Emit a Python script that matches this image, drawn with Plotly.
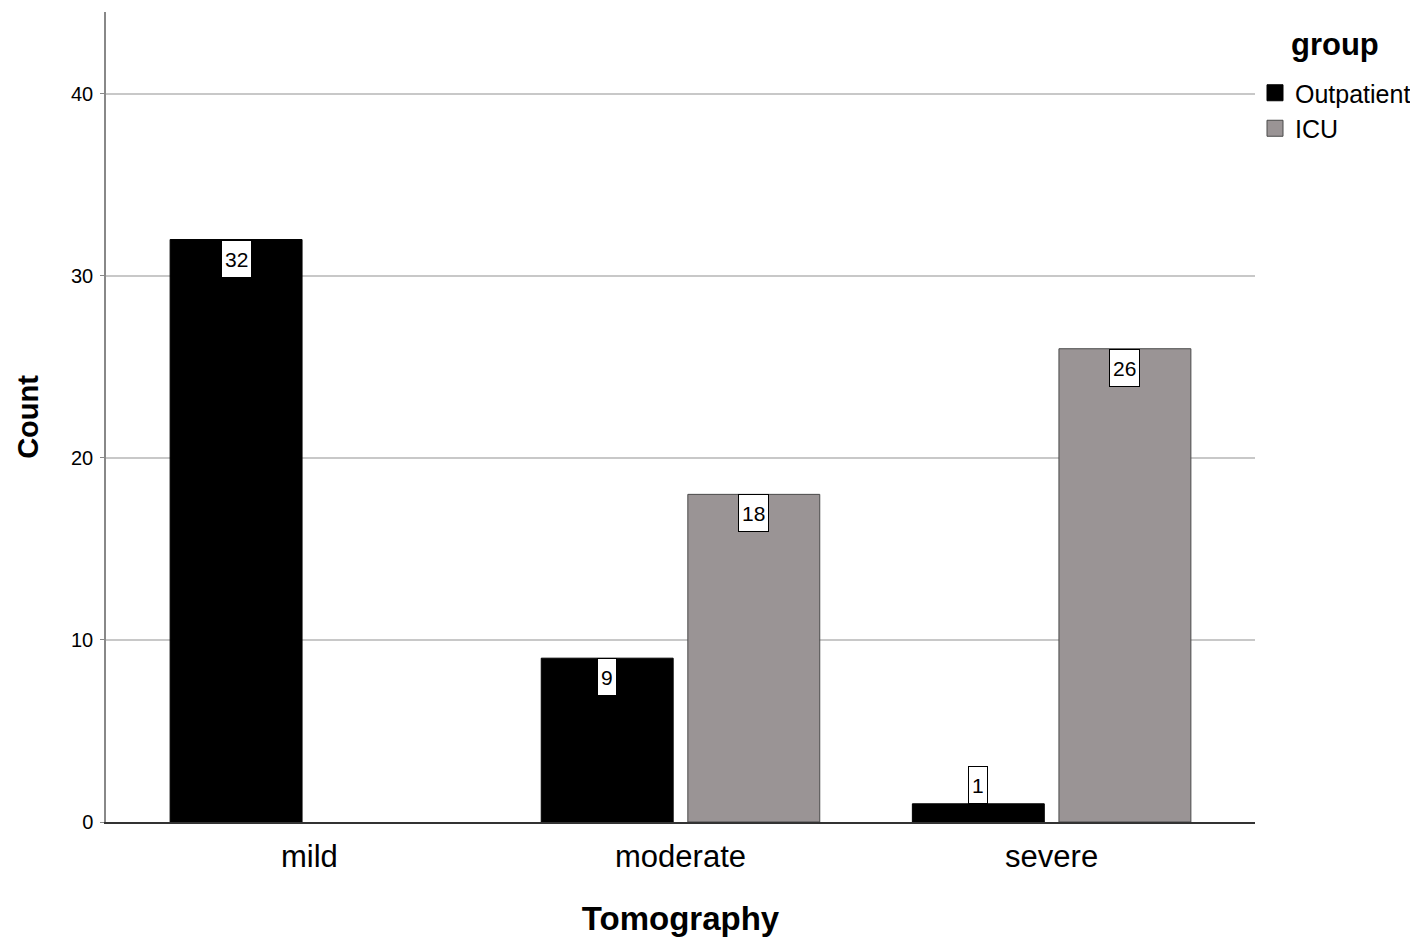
import plotly.graph_objects as go

categories = ["mild", "moderate", "severe"]
outpatient = [32, 9, 1]
icu = [None, 18, 26]
series_names = ["Outpatient", "ICU"]
series_colors = ["#000000", "#9a9495"]
series_lines = ["#000000", "#4a4a4a"]
legend_title = "group"
y_ticks = [0, 10, 20, 30, 40]

BARGAP = 0.21
GROUPGAP = 0.10
FONT = "Liberation Sans, Arial, sans-serif"
W, H = 1418, 949

xs = list(range(len(categories)))
fig = go.Figure()
for name, vals, col, lc in zip(series_names, (outpatient, icu), series_colors, series_lines):
    fig.add_trace(go.Bar(x=xs, y=vals, name=name, showlegend=False,
                         marker=dict(color=col, line=dict(color=lc, width=1))))
# legend entries with larger square swatches
for name, col, lc in zip(series_names, series_colors, series_lines):
    fig.add_trace(go.Scatter(x=[None], y=[None], name=name, mode="markers",
                             marker=dict(symbol="square", size=22, color=col,
                                         line=dict(color=lc, width=1))))

offset = (1 - BARGAP) / 4
for vals, sign in ((outpatient, -1), (icu, 1)):
    for i, v in enumerate(vals):
        if v is None:
            continue
        inside = v > 3
        fig.add_annotation(x=xs[i] + sign * offset, y=v, xref="x", yref="y",
                           text=str(v), showarrow=False,
                           yanchor="top" if inside else "bottom",
                           font=dict(family=FONT, size=21, color="#000"),
                           bgcolor="#ffffff", bordercolor="#000000", borderwidth=1,
                           borderpad=3, height=30)

# legend title
fig.add_annotation(x=1, y=1, xref="paper", yref="paper", xanchor="left", yanchor="middle",
                   xshift=34, yshift=-32, showarrow=False,
                   text="<b>" + legend_title + "</b>", font=dict(size=31, family=FONT, color="#000"))

fig.update_layout(
    width=W, height=H,
    margin=dict(l=98, r=167, t=4, b=135),
    paper_bgcolor="#ffffff", plot_bgcolor="#ffffff",
    barmode="group", bargap=BARGAP, bargroupgap=GROUPGAP,
    font=dict(family=FONT, color="#000"),
    legend=dict(xref="container", yref="container",
                x=1247 / W, xanchor="left", y=1 - 62 / H, yanchor="top",
                font=dict(size=25, family=FONT), tracegroupgap=0, itemwidth=30,
                itemsizing="trace", bgcolor="rgba(0,0,0,0)"),
    xaxis=dict(range=[-0.548, 2.548], tickvals=xs, ticktext=categories,
               tickfont=dict(size=31, family=FONT), showgrid=False,
               showline=True, linecolor="#333333", linewidth=1.5,
               ticks="", ticklabelstandoff=6, zeroline=False, automargin=False,
               title=dict(text="<b>Tomography</b>", font=dict(size=33, family=FONT), standoff=34)),
    yaxis=dict(range=[0, 44.5], tickvals=y_ticks, tickfont=dict(size=20, family=FONT),
               showgrid=True, gridcolor="#c8c8c8", gridwidth=1.5,
               showline=True, linecolor="#888888", linewidth=1.5,
               ticks="outside", ticklen=4, tickcolor="#888888", zeroline=False,
               ticklabelstandoff=3, automargin=False,
               title=dict(text="<b>Count</b>", font=dict(size=29, family=FONT), standoff=24)),
)

fig.write_html("out.html")
